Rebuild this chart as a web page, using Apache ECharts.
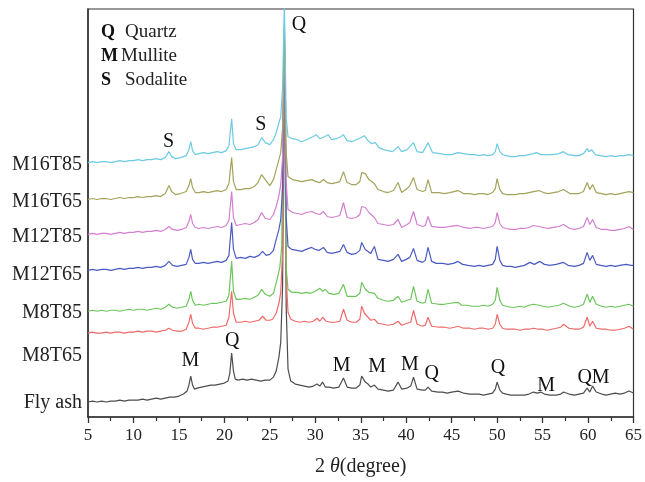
<!DOCTYPE html>
<html><head><meta charset="utf-8">
<script src="https://cdn.jsdelivr.net/npm/echarts@6/dist/echarts.min.js"></script>
<style>html,body{margin:0;padding:0;background:#fff}#c{width:645px;height:482px}</style>
</head><body><div id="c"></div>
<script>
// ---- data: [2theta, stacked intensity (a.u.)] ----
const sampleNames = ['Fly ash', 'M8T65', 'M8T85', 'M12T65', 'M12T85', 'M16T65', 'M16T85'];
const xTicks = [5, 10, 15, 20, 25, 30, 35, 40, 45, 50, 55, 60, 65];

const flyAsh = [[5,15],[5.5,16],[6,15],[6.5,16],[7,15],[7.5,16],[8,16],[8.5,17],[9,16],[9.5,17],[10,17],[10.5,17],[11,18],[11.5,17],[12,18],[12.5,19],[13,18],[13.5,19],[14,20],[14.5,20],[15,21],[15.5,23],[15.9,26],[16.1,32],[16.3,41],[16.5,32],[16.7,28],[17,29],[17.5,30],[18,31],[18.5,32],[19,32],[19.5,33],[20,34],[20.4,36],[20.6,44],[20.8,64],[21.0,46],[21.2,38],[21.5,37],[22,38],[22.5,37],[23,38],[23.5,37],[24,36],[24.5,37],[25,37],[25.4,40],[25.7,46],[26.0,60],[26.2,75],[26.4,130],[26.6,370],[26.8,110],[27.0,48],[27.3,36],[27.8,33],[28.3,32],[28.8,31],[29.3,30],[29.8,31],[30.2,33],[30.5,31],[30.8,35],[31.1,30],[31.5,30],[32,29],[32.6,30],[33.1,39],[33.5,30],[34,29],[34.5,29],[34.9,32],[35.1,41],[35.5,35],[35.8,33],[36.1,30],[36.5,32],[36.9,28],[37.5,27],[38,26],[38.6,27],[39.1,35],[39.5,28],[40.1,29],[40.5,31],[40.8,40],[41.2,28],[41.8,27],[42.1,27],[42.4,30],[42.8,26],[43.5,25],[44,25],[44.5,24],[45,25],[45.7,26],[46.3,24],[47,23],[47.5,23],[48,23],[48.5,22],[49,23],[49.5,24],[49.8,28],[50.0,35],[50.3,27],[50.6,24],[51,23],[51.5,22],[52,22],[52.5,22],[53,22],[53.5,23],[54,25],[54.4,24],[54.8,25],[55.2,23],[55.8,22],[56.5,22],[57,23],[57.3,25],[57.9,23],[58.5,22],[59,23],[59.5,24],[59.9,29],[60.2,25],[60.5,31],[60.9,25],[61.5,23],[62,22],[62.5,23],[63,24],[63.5,23],[64,24],[64.5,26],[65,24]];

const m8t65 = [[5,84],[5.5,85],[6,84],[6.5,84],[7,85],[7.5,84],[8,85],[8.5,85],[9,84],[9.5,85],[10,85],[10.5,86],[11,85],[11.5,86],[12,86],[12.5,85],[13,86],[13.5,87],[13.9,89],[14.3,87],[14.8,86],[15.3,86],[15.8,88],[16.1,95],[16.3,103],[16.5,94],[16.8,89],[17.2,89],[17.7,88],[18.2,89],[18.7,90],[19.2,90],[19.7,91],[20.2,92],[20.5,100],[20.8,126],[21.0,104],[21.3,95],[21.8,95],[22.3,96],[22.8,95],[23.3,96],[23.8,97],[24.2,101],[24.6,97],[25,97],[25.3,98],[25.7,104],[26.0,114],[26.2,125],[26.4,165],[26.6,375],[26.8,140],[27.0,105],[27.3,98],[27.8,96],[28.3,95],[28.8,96],[29.3,95],[29.8,96],[30.2,99],[30.5,96],[30.8,100],[31.2,96],[31.7,95],[32.2,95],[32.7,96],[33.1,108],[33.5,97],[34,95],[34.5,95],[34.9,98],[35.1,111],[35.4,104],[35.7,101],[36.1,97],[36.5,98],[36.9,94],[37.5,93],[38,92],[38.6,93],[39.1,96],[39.5,92],[40.1,94],[40.5,95],[40.8,107],[41.2,93],[41.8,91],[42.1,92],[42.4,100],[42.8,91],[43.6,90],[44.2,90],[44.8,89],[45.3,90],[45.7,91],[46.3,89],[47,89],[47.5,88],[48,89],[48.5,89],[49,88],[49.5,89],[49.8,93],[50.0,103],[50.3,93],[50.6,89],[51,88],[51.5,88],[52,88],[52.5,87],[53,88],[53.5,88],[54,89],[54.5,88],[55,88],[55.5,87],[56,88],[56.5,89],[57,90],[57.3,93],[57.9,89],[58.5,88],[59,88],[59.5,90],[59.9,100],[60.2,91],[60.5,96],[60.9,89],[61.5,88],[62,88],[62.5,87],[63,87],[63.5,88],[64,89],[64.5,91],[65,88]];

const m8t85 = [[5,106],[5.5,107],[6,106],[6.5,107],[7,106],[7.5,107],[8,107],[8.5,106],[9,107],[9.5,108],[10,107],[10.5,108],[11,108],[11.5,107],[12,108],[12.5,109],[13,108],[13.5,110],[13.9,113],[14.3,110],[14.8,109],[15.3,110],[15.8,111],[16.1,118],[16.3,126],[16.5,117],[16.8,112],[17.2,113],[17.7,112],[18.2,113],[18.7,114],[19.2,114],[19.7,115],[20.2,116],[20.5,122],[20.8,156],[21.0,126],[21.3,118],[21.8,118],[22.3,119],[22.8,118],[23.3,120],[23.7,122],[24.1,128],[24.5,123],[25,121],[25.4,124],[25.8,138],[26.1,150],[26.3,170],[26.6,380],[26.8,150],[27.0,128],[27.4,125],[28,125],[28.5,124],[29,125],[29.5,124],[30,126],[30.5,129],[30.8,126],[31.1,128],[31.5,124],[32,123],[32.6,124],[33.1,133],[33.5,121],[34,121],[34.5,121],[34.9,124],[35.1,135],[35.5,128],[35.9,125],[36.5,124],[36.9,119],[37.5,117],[38,116],[38.6,117],[39.1,121],[39.5,115],[40.1,117],[40.5,118],[40.8,131],[41.2,116],[41.8,114],[42.1,115],[42.4,128],[42.8,114],[43.6,113],[44.2,113],[44.8,114],[45.7,115],[46.1,112],[46.7,112],[47.3,111],[48,111],[48.5,112],[49,111],[49.5,113],[49.8,117],[50.0,130],[50.3,117],[50.6,112],[51,111],[51.5,110],[52,110],[52.5,111],[53,110],[53.5,112],[54,113],[54.6,112],[55.1,111],[55.6,110],[56.2,111],[56.8,112],[57.3,114],[58,111],[58.5,110],[59,111],[59.5,113],[59.9,123],[60.2,115],[60.5,121],[60.9,113],[61.5,111],[62,110],[62.5,111],[63,110],[63.5,111],[64,112],[64.5,113],[65,111]];

const m12t65 = [[5,147],[5.5,148],[6,147],[6.5,148],[7,148],[7.5,147],[8,148],[8.5,149],[9,148],[9.5,149],[10,149],[10.5,150],[11,149],[11.5,150],[12,150],[12.5,151],[13,150],[13.5,152],[13.9,156],[14.3,152],[14.8,151],[15.3,152],[15.8,153],[16.1,160],[16.3,168],[16.5,158],[16.8,154],[17.2,154],[17.7,155],[18.2,154],[18.7,155],[19.2,156],[19.7,155],[20.2,157],[20.5,162],[20.8,195],[21.0,168],[21.3,159],[21.8,160],[22.3,159],[22.8,161],[23.3,160],[23.8,162],[24.2,166],[24.6,162],[25,163],[25.4,167],[25.7,178],[26.0,188],[26.2,198],[26.4,230],[26.6,385],[26.8,200],[27.0,171],[27.4,168],[28,167],[28.5,166],[29,168],[29.6,170],[30.0,168],[30.4,167],[30.9,170],[31.3,165],[31.8,164],[32.3,165],[32.7,166],[33.1,173],[33.5,165],[34,163],[34.5,164],[34.9,167],[35.1,175],[35.5,168],[35.8,166],[36.1,164],[36.5,171],[36.9,158],[37.5,157],[38,156],[38.6,158],[39.1,163],[39.5,156],[40.0,158],[40.4,160],[40.8,169],[41.2,157],[41.8,155],[42.1,157],[42.4,170],[42.8,156],[43.3,154],[44,154],[44.6,153],[45.2,154],[45.7,156],[46.2,153],[46.8,152],[47.5,151],[48,152],[48.5,151],[49,152],[49.5,153],[49.8,158],[50.0,171],[50.3,157],[50.6,152],[51,151],[51.5,151],[52,150],[52.5,151],[53,152],[53.6,155],[54.1,153],[54.7,156],[55.2,153],[55.8,152],[56.5,153],[57.3,155],[57.8,152],[58.5,151],[59,152],[59.5,154],[59.9,165],[60.2,157],[60.5,162],[60.9,153],[61.4,152],[62,151],[62.5,152],[63,151],[63.5,152],[64.2,153],[64.7,152],[65,152]];

const m12t85 = [[5,183],[5.5,184],[6,183],[6.5,184],[7,184],[7.5,183],[8,184],[8.5,185],[9,184],[9.5,185],[10,185],[10.5,186],[11,185],[11.5,186],[12,186],[12.5,187],[13,186],[13.5,188],[13.9,191],[14.3,188],[14.8,187],[15.3,188],[15.8,190],[16.1,196],[16.3,203],[16.5,194],[16.8,190],[17.2,189],[17.7,190],[18.2,189],[18.7,190],[19.2,191],[19.7,190],[20.2,192],[20.5,197],[20.8,226],[21.0,200],[21.3,192],[21.8,193],[22.3,194],[22.8,193],[23.3,195],[23.7,198],[24.1,205],[24.5,199],[25,198],[25.4,203],[25.7,211],[26.0,222],[26.2,233],[26.4,260],[26.6,390],[26.8,235],[27.0,208],[27.5,205],[28,204],[28.5,203],[29,205],[29.6,206],[30.1,204],[30.5,203],[30.9,206],[31.3,201],[31.8,200],[32.3,201],[32.7,202],[33.1,215],[33.5,200],[34,199],[34.5,200],[34.9,203],[35.1,211],[35.5,210],[35.9,205],[36.5,200],[36.9,194],[37.5,193],[38,192],[38.6,193],[39.1,198],[39.5,190],[40.1,193],[40.4,195],[40.8,206],[41.2,193],[41.8,191],[42.1,192],[42.4,201],[42.8,191],[43.6,190],[44.2,190],[44.8,191],[45.7,192],[46.3,190],[47,189],[47.5,190],[48,190],[48.5,189],[49,190],[49.5,191],[49.8,195],[50.0,205],[50.3,194],[50.6,190],[51,189],[51.5,188],[52,188],[52.5,189],[53,189],[53.5,190],[54,192],[54.6,191],[55.1,190],[55.6,189],[56.2,190],[56.8,191],[57.3,193],[58,189],[58.5,188],[59,189],[59.5,191],[59.9,200],[60.2,193],[60.5,198],[60.9,190],[61.5,188],[62,188],[62.5,187],[63,187],[63.5,188],[64,189],[64.5,191],[65,188]];

const m16t65 = [[5,218],[5.5,219],[6,218],[6.5,219],[7,219],[7.5,218],[8,219],[8.5,220],[9,219],[9.5,220],[10,220],[10.5,221],[11,220],[11.5,221],[12,221],[12.5,222],[13,221],[13.5,224],[13.9,232],[14.2,226],[14.6,223],[15.2,224],[15.8,226],[16.1,232],[16.3,239],[16.5,230],[16.8,225],[17.2,225],[17.7,226],[18.2,225],[18.7,226],[19.2,227],[19.7,226],[20.2,228],[20.5,234],[20.8,260],[21.0,236],[21.3,228],[21.8,228],[22.3,229],[22.8,229],[23.3,231],[23.7,235],[24.1,243],[24.5,238],[25,232],[25.4,238],[25.7,248],[26.0,258],[26.2,265],[26.4,290],[26.6,395],[26.8,265],[27.0,241],[27.5,238],[28,237],[28.5,236],[29,237],[29.6,238],[30.1,236],[30.5,235],[30.9,238],[31.3,235],[31.8,234],[32.3,235],[32.7,236],[33.1,246],[33.5,235],[34,233],[34.5,233],[34.9,236],[35.1,245],[35.5,244],[35.9,238],[36.5,234],[36.9,228],[37.5,226],[38,225],[38.6,227],[39.1,235],[39.5,225],[40.1,229],[40.4,232],[40.8,240],[41.2,228],[41.8,226],[42.1,227],[42.4,238],[42.8,225],[43.6,225],[44.2,224],[44.8,225],[45.7,227],[46.3,224],[47,224],[47.5,223],[48,224],[48.5,224],[49,223],[49.5,225],[49.8,229],[50.0,239],[50.3,228],[50.6,224],[51,223],[51.5,223],[52,223],[52.5,224],[53,224],[53.5,225],[54,226],[54.6,227],[55.1,225],[55.6,224],[56.2,225],[56.8,226],[57.3,228],[58,224],[58.5,224],[59,224],[59.5,226],[59.9,235],[60.2,228],[60.5,233],[60.9,225],[61.5,224],[62,223],[62.5,224],[63,223],[63.5,224],[64,225],[64.5,226],[65,225]];

const m16t85 = [[5,255],[5.5,256],[6,255],[6.5,256],[7,256],[7.5,255],[8,256],[8.5,257],[9,256],[9.5,257],[10,257],[10.5,258],[11,257],[11.5,258],[12,258],[12.5,259],[13,258],[13.5,260],[13.9,266],[14.2,261],[14.6,259],[15.2,260],[15.8,262],[16.1,268],[16.3,276],[16.5,267],[16.8,263],[17.2,264],[17.7,265],[18.2,264],[18.7,265],[19.2,266],[19.7,265],[20.2,267],[20.5,272],[20.8,299],[21.0,274],[21.3,268],[21.8,268],[22.3,269],[22.8,270],[23.3,271],[23.7,273],[24.1,280],[24.5,275],[25,273],[25.4,278],[25.7,285],[26.0,295],[26.2,301],[26.4,330],[26.6,415],[26.8,300],[27.0,281],[27.5,279],[28,278],[28.5,276],[29,278],[29.5,280],[30.1,283],[30.5,279],[31,281],[31.4,283],[31.8,278],[32.3,279],[32.8,281],[33.1,283],[33.5,277],[34,276],[34.5,278],[35.0,280],[35.4,282],[35.8,277],[36.2,274],[36.6,275],[37,270],[37.5,268],[38,267],[38.5,266],[39.1,271],[39.5,266],[40.1,268],[40.8,275],[41.2,266],[41.8,265],[42.4,275],[42.9,265],[43.7,264],[44.3,263],[45,263],[45.7,265],[46.3,264],[47,263],[47.5,263],[48,262],[48.5,263],[49,262],[49.5,263],[49.8,266],[50.0,274],[50.3,266],[50.6,263],[51,262],[51.5,261],[52,261],[52.5,262],[53,262],[53.5,263],[54,264],[54.3,265],[54.8,263],[55.5,263],[56.2,263],[56.8,264],[57.3,266],[57.8,263],[58.5,262],[59,262],[59.5,264],[59.9,269],[60.1,266],[60.4,268],[60.8,263],[61.3,262],[62,261],[62.5,262],[63,261],[63.5,262],[64,262],[64.5,263],[65,262]];

// peak annotations (phase letter, 2theta, intensity position)
const annoText = ['Q', 'S', 'S', 'M', 'Q', 'M', 'M', 'M', 'Q', 'Q', 'M', 'QM'];
const annoX = [28.2, 24.0, 13.85, 16.26, 20.85, 32.9, 36.8, 40.4, 42.8, 50.1, 55.4, 60.6];
const annoY = [393, 293, 276, 56, 76, 51, 50, 52, 43, 49, 31, 39];

// phase key
const keyLetters = ['Q', 'M', 'S'];
const keyNames = ['Quartz', 'Mullite', 'Sodalite'];

// ---- rendering ----
const seriesData = [flyAsh, m8t65, m8t85, m12t65, m12t85, m16t65, m16t85];
const colors = ['#4d4d4d', '#f06a6a', '#6cc55c', '#4a5bc2', '#d27fcf', '#a3a35b', '#6ccbe0'];
const labelY = [403, 356, 313, 275, 237, 202, 165];
const SERIF = '"Liberation Serif","Times New Roman","DejaVu Serif",serif';

const chart = echarts.init(document.getElementById('c'), null, { renderer: 'canvas' });

const series = seriesData.map((d, i) => ({
  name: sampleNames[i],
  type: 'line',
  data: d,
  showSymbol: false,
  symbol: 'none',
  smooth: false,
  clip: true,
  lineStyle: { color: colors[i], width: 1.2 },
  z: 2 + i,
  animation: false
}));

series.push({
  type: 'scatter',
  data: annoText.map((t, i) => ({ name: t, value: [annoX[i], annoY[i]] })),
  symbolSize: 1,
  itemStyle: { color: 'rgba(0,0,0,0)' },
  clip: false,
  z: 20,
  emphasis: { disabled: true },
  label: {
    show: true,
    position: 'inside',
    formatter: '{b}',
    color: '#111',
    opacity: 1,
    fontFamily: SERIF,
    fontSize: 20
  },
  animation: false
});

const graphics = [];
keyLetters.forEach((l, i) => {
  const y = 32 + i * 24;
  graphics.push({ type: 'text', x: 101, y: y, style: { text: l, font: 'bold 18px ' + SERIF, fill: '#111', verticalAlign: 'middle', align: 'left' } });
  graphics.push({ type: 'text', x: l === 'M' ? 121 : 125, y: y, style: { text: keyNames[i], font: '19px ' + SERIF, fill: '#222', verticalAlign: 'middle', align: 'left' } });
});
sampleNames.forEach((n, i) => {
  graphics.push({ type: 'text', x: 82, y: labelY[i], style: { text: n, font: '20px ' + SERIF, fill: '#222', verticalAlign: 'middle', align: 'right' } });
});

chart.setOption({
  backgroundColor: '#fff',
  animation: false,
  grid: { left: 88, right: 7, top: 9, bottom: 64, show: true, borderColor: '#333', borderWidth: 1.2, containLabel: false },
  xAxis: {
    type: 'value', min: xTicks[0], max: xTicks[xTicks.length - 1], interval: 5,
    axisLine: { show: true, lineStyle: { color: '#333', width: 1.5 } },
    axisTick: { show: true, inside: false, length: 6, lineStyle: { color: '#333', width: 1.3 } },
    minorTick: { show: true, splitNumber: 2, length: 4, lineStyle: { color: '#333', width: 1.2 } },
    splitLine: { show: false },
    minorSplitLine: { show: false },
    axisLabel: { color: '#222', fontFamily: SERIF, fontSize: 17, margin: 10 },
    name: '2 {i|θ}(degree)',
    nameLocation: 'middle',
    nameGap: 40,
    nameTextStyle: {
      color: '#222', fontFamily: SERIF, fontSize: 20,
      rich: { i: { fontStyle: 'italic', fontFamily: SERIF, fontSize: 20, color: '#222' } }
    }
  },
  yAxis: {
    type: 'value', min: 0, max: 409,
    axisLine: { show: true, lineStyle: { color: '#333', width: 1.5 } },
    axisTick: { show: false },
    axisLabel: { show: false },
    splitLine: { show: false }
  },
  series: series,
  graphic: graphics
});
</script>
</body></html>
